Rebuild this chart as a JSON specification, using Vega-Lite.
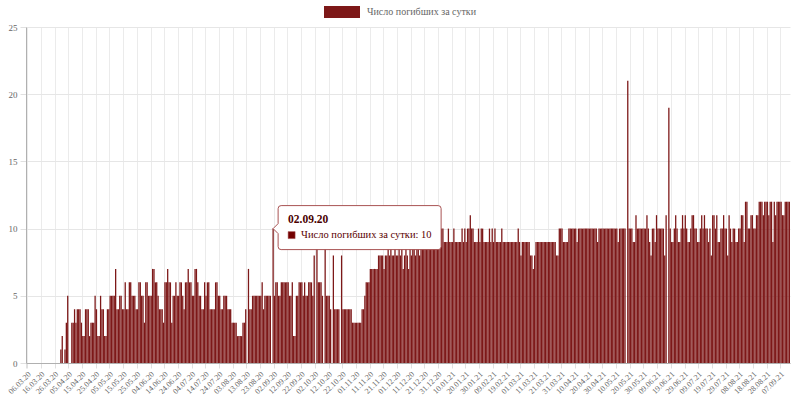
{
"$schema": "https://vega.github.io/schema/vega-lite/v6.json",
"width": 764,
"height": 336,
"autosize": {"type": "none"},
"padding": {"left": 26, "top": 27, "right": 8, "bottom": 36},
"background": "white",
"config": {"font": "Liberation Serif", "view": {"stroke": null}, "axis": {"labelFont": "Liberation Serif"}, "legend": {"labelFont": "Liberation Serif"}, "text": {"font": "Liberation Serif"}},
"data": {"values": [
{"d":"06.03.20","v":0},{"d":"07.03.20","v":0},{"d":"08.03.20","v":0},{"d":"09.03.20","v":0},{"d":"10.03.20","v":0},{"d":"11.03.20","v":0},{"d":"12.03.20","v":0},{"d":"13.03.20","v":0},{"d":"14.03.20","v":0},{"d":"15.03.20","v":0},{"d":"16.03.20","v":0},{"d":"17.03.20","v":0},{"d":"18.03.20","v":0},{"d":"19.03.20","v":0},{"d":"20.03.20","v":0},{"d":"21.03.20","v":0},{"d":"22.03.20","v":0},{"d":"23.03.20","v":0},{"d":"24.03.20","v":0},{"d":"25.03.20","v":0},{"d":"26.03.20","v":0},{"d":"27.03.20","v":0},{"d":"28.03.20","v":0},{"d":"29.03.20","v":0},{"d":"30.03.20","v":0},{"d":"31.03.20","v":1},
{"d":"01.04.20","v":2},{"d":"02.04.20","v":0},{"d":"03.04.20","v":1},{"d":"04.04.20","v":3},{"d":"05.04.20","v":5},{"d":"06.04.20","v":0},{"d":"07.04.20","v":0},{"d":"08.04.20","v":3},{"d":"09.04.20","v":3},{"d":"10.04.20","v":4},{"d":"11.04.20","v":3},{"d":"12.04.20","v":4},{"d":"13.04.20","v":4},{"d":"14.04.20","v":4},{"d":"15.04.20","v":3},{"d":"16.04.20","v":2},{"d":"17.04.20","v":2},{"d":"18.04.20","v":4},{"d":"19.04.20","v":4},{"d":"20.04.20","v":4},{"d":"21.04.20","v":2},{"d":"22.04.20","v":3},{"d":"23.04.20","v":3},{"d":"24.04.20","v":3},{"d":"25.04.20","v":5},{"d":"26.04.20","v":4},{"d":"27.04.20","v":2},{"d":"28.04.20","v":2},{"d":"29.04.20","v":5},{"d":"30.04.20","v":4},
{"d":"01.05.20","v":4},{"d":"02.05.20","v":2},{"d":"03.05.20","v":2},{"d":"04.05.20","v":4},{"d":"05.05.20","v":4},{"d":"06.05.20","v":5},{"d":"07.05.20","v":5},{"d":"08.05.20","v":5},{"d":"09.05.20","v":5},{"d":"10.05.20","v":7},{"d":"11.05.20","v":4},{"d":"12.05.20","v":4},{"d":"13.05.20","v":5},{"d":"14.05.20","v":5},{"d":"15.05.20","v":4},{"d":"16.05.20","v":4},{"d":"17.05.20","v":6},{"d":"18.05.20","v":4},{"d":"19.05.20","v":4},{"d":"20.05.20","v":6},{"d":"21.05.20","v":6},{"d":"22.05.20","v":5},{"d":"23.05.20","v":5},{"d":"24.05.20","v":5},{"d":"25.05.20","v":4},{"d":"26.05.20","v":4},{"d":"27.05.20","v":6},{"d":"28.05.20","v":6},{"d":"29.05.20","v":5},{"d":"30.05.20","v":5},{"d":"31.05.20","v":3},
{"d":"01.06.20","v":6},{"d":"02.06.20","v":6},{"d":"03.06.20","v":5},{"d":"04.06.20","v":5},{"d":"05.06.20","v":5},{"d":"06.06.20","v":7},{"d":"07.06.20","v":7},{"d":"08.06.20","v":6},{"d":"09.06.20","v":6},{"d":"10.06.20","v":5},{"d":"11.06.20","v":4},{"d":"12.06.20","v":4},{"d":"13.06.20","v":4},{"d":"14.06.20","v":3},{"d":"15.06.20","v":6},{"d":"16.06.20","v":6},{"d":"17.06.20","v":7},{"d":"18.06.20","v":6},{"d":"19.06.20","v":6},{"d":"20.06.20","v":3},{"d":"21.06.20","v":5},{"d":"22.06.20","v":5},{"d":"23.06.20","v":6},{"d":"24.06.20","v":5},{"d":"25.06.20","v":5},{"d":"26.06.20","v":6},{"d":"27.06.20","v":6},{"d":"28.06.20","v":5},{"d":"29.06.20","v":4},{"d":"30.06.20","v":6},
{"d":"01.07.20","v":6},{"d":"02.07.20","v":7},{"d":"03.07.20","v":6},{"d":"04.07.20","v":6},{"d":"05.07.20","v":5},{"d":"06.07.20","v":5},{"d":"07.07.20","v":7},{"d":"08.07.20","v":7},{"d":"09.07.20","v":6},{"d":"10.07.20","v":5},{"d":"11.07.20","v":5},{"d":"12.07.20","v":4},{"d":"13.07.20","v":4},{"d":"14.07.20","v":6},{"d":"15.07.20","v":5},{"d":"16.07.20","v":6},{"d":"17.07.20","v":6},{"d":"18.07.20","v":4},{"d":"19.07.20","v":4},{"d":"20.07.20","v":4},{"d":"21.07.20","v":4},{"d":"22.07.20","v":6},{"d":"23.07.20","v":6},{"d":"24.07.20","v":5},{"d":"25.07.20","v":5},{"d":"26.07.20","v":4},{"d":"27.07.20","v":4},{"d":"28.07.20","v":5},{"d":"29.07.20","v":5},{"d":"30.07.20","v":5},{"d":"31.07.20","v":4},
{"d":"01.08.20","v":4},{"d":"02.08.20","v":4},{"d":"03.08.20","v":3},{"d":"04.08.20","v":3},{"d":"05.08.20","v":3},{"d":"06.08.20","v":3},{"d":"07.08.20","v":2},{"d":"08.08.20","v":2},{"d":"09.08.20","v":2},{"d":"10.08.20","v":2},{"d":"11.08.20","v":3},{"d":"12.08.20","v":3},{"d":"13.08.20","v":4},{"d":"14.08.20","v":0},{"d":"15.08.20","v":7},{"d":"16.08.20","v":4},{"d":"17.08.20","v":4},{"d":"18.08.20","v":5},{"d":"19.08.20","v":5},{"d":"20.08.20","v":5},{"d":"21.08.20","v":5},{"d":"22.08.20","v":5},{"d":"23.08.20","v":5},{"d":"24.08.20","v":5},{"d":"25.08.20","v":6},{"d":"26.08.20","v":4},{"d":"27.08.20","v":5},{"d":"28.08.20","v":5},{"d":"29.08.20","v":5},{"d":"30.08.20","v":5},{"d":"31.08.20","v":5},
{"d":"01.09.20","v":0},{"d":"02.09.20","v":10},{"d":"03.09.20","v":5},{"d":"04.09.20","v":6},{"d":"05.09.20","v":6},{"d":"06.09.20","v":5},{"d":"07.09.20","v":5},{"d":"08.09.20","v":6},{"d":"09.09.20","v":6},{"d":"10.09.20","v":6},{"d":"11.09.20","v":6},{"d":"12.09.20","v":6},{"d":"13.09.20","v":6},{"d":"14.09.20","v":5},{"d":"15.09.20","v":5},{"d":"16.09.20","v":6},{"d":"17.09.20","v":2},{"d":"18.09.20","v":2},{"d":"19.09.20","v":5},{"d":"20.09.20","v":5},{"d":"21.09.20","v":6},{"d":"22.09.20","v":6},{"d":"23.09.20","v":6},{"d":"24.09.20","v":5},{"d":"25.09.20","v":6},{"d":"26.09.20","v":5},{"d":"27.09.20","v":5},{"d":"28.09.20","v":6},{"d":"29.09.20","v":6},{"d":"30.09.20","v":6},
{"d":"01.10.20","v":5},{"d":"02.10.20","v":8},{"d":"03.10.20","v":0},{"d":"04.10.20","v":9},{"d":"05.10.20","v":6},{"d":"06.10.20","v":6},{"d":"07.10.20","v":6},{"d":"08.10.20","v":5},{"d":"09.10.20","v":0},{"d":"10.10.20","v":9},{"d":"11.10.20","v":5},{"d":"12.10.20","v":5},{"d":"13.10.20","v":5},{"d":"14.10.20","v":4},{"d":"15.10.20","v":0},{"d":"16.10.20","v":8},{"d":"17.10.20","v":4},{"d":"18.10.20","v":4},{"d":"19.10.20","v":4},{"d":"20.10.20","v":4},{"d":"21.10.20","v":0},{"d":"22.10.20","v":8},{"d":"23.10.20","v":4},{"d":"24.10.20","v":4},{"d":"25.10.20","v":4},{"d":"26.10.20","v":4},{"d":"27.10.20","v":4},{"d":"28.10.20","v":4},{"d":"29.10.20","v":4},{"d":"30.10.20","v":3},{"d":"31.10.20","v":3},
{"d":"01.11.20","v":3},{"d":"02.11.20","v":3},{"d":"03.11.20","v":3},{"d":"04.11.20","v":3},{"d":"05.11.20","v":3},{"d":"06.11.20","v":4},{"d":"07.11.20","v":4},{"d":"08.11.20","v":5},{"d":"09.11.20","v":6},{"d":"10.11.20","v":6},{"d":"11.11.20","v":6},{"d":"12.11.20","v":7},{"d":"13.11.20","v":7},{"d":"14.11.20","v":7},{"d":"15.11.20","v":7},{"d":"16.11.20","v":7},{"d":"17.11.20","v":7},{"d":"18.11.20","v":8},{"d":"19.11.20","v":8},{"d":"20.11.20","v":8},{"d":"21.11.20","v":8},{"d":"22.11.20","v":7},{"d":"23.11.20","v":8},{"d":"24.11.20","v":8},{"d":"25.11.20","v":9},{"d":"26.11.20","v":8},{"d":"27.11.20","v":9},{"d":"28.11.20","v":8},{"d":"29.11.20","v":8},{"d":"30.11.20","v":9},
{"d":"01.12.20","v":8},{"d":"02.12.20","v":8},{"d":"03.12.20","v":9},{"d":"04.12.20","v":8},{"d":"05.12.20","v":9},{"d":"06.12.20","v":7},{"d":"07.12.20","v":8},{"d":"08.12.20","v":9},{"d":"09.12.20","v":8},{"d":"10.12.20","v":7},{"d":"11.12.20","v":9},{"d":"12.12.20","v":8},{"d":"13.12.20","v":9},{"d":"14.12.20","v":9},{"d":"15.12.20","v":8},{"d":"16.12.20","v":9},{"d":"17.12.20","v":9},{"d":"18.12.20","v":8},{"d":"19.12.20","v":9},{"d":"20.12.20","v":9},{"d":"21.12.20","v":9},{"d":"22.12.20","v":9},{"d":"23.12.20","v":9},{"d":"24.12.20","v":9},{"d":"25.12.20","v":9},{"d":"26.12.20","v":9},{"d":"27.12.20","v":10},{"d":"28.12.20","v":9},{"d":"29.12.20","v":9},{"d":"30.12.20","v":10},{"d":"31.12.20","v":9},
{"d":"01.01.21","v":9},{"d":"02.01.21","v":9},{"d":"03.01.21","v":10},{"d":"04.01.21","v":10},{"d":"05.01.21","v":9},{"d":"06.01.21","v":9},{"d":"07.01.21","v":9},{"d":"08.01.21","v":10},{"d":"09.01.21","v":9},{"d":"10.01.21","v":9},{"d":"11.01.21","v":9},{"d":"12.01.21","v":10},{"d":"13.01.21","v":9},{"d":"14.01.21","v":9},{"d":"15.01.21","v":9},{"d":"16.01.21","v":9},{"d":"17.01.21","v":9},{"d":"18.01.21","v":10},{"d":"19.01.21","v":9},{"d":"20.01.21","v":10},{"d":"21.01.21","v":9},{"d":"22.01.21","v":10},{"d":"23.01.21","v":10},{"d":"24.01.21","v":11},{"d":"25.01.21","v":10},{"d":"26.01.21","v":10},{"d":"27.01.21","v":9},{"d":"28.01.21","v":9},{"d":"29.01.21","v":9},{"d":"30.01.21","v":10},{"d":"31.01.21","v":9},
{"d":"01.02.21","v":10},{"d":"02.02.21","v":10},{"d":"03.02.21","v":9},{"d":"04.02.21","v":9},{"d":"05.02.21","v":9},{"d":"06.02.21","v":9},{"d":"07.02.21","v":10},{"d":"08.02.21","v":9},{"d":"09.02.21","v":10},{"d":"10.02.21","v":9},{"d":"11.02.21","v":10},{"d":"12.02.21","v":9},{"d":"13.02.21","v":9},{"d":"14.02.21","v":9},{"d":"15.02.21","v":9},{"d":"16.02.21","v":10},{"d":"17.02.21","v":9},{"d":"18.02.21","v":9},{"d":"19.02.21","v":9},{"d":"20.02.21","v":9},{"d":"21.02.21","v":9},{"d":"22.02.21","v":9},{"d":"23.02.21","v":9},{"d":"24.02.21","v":9},{"d":"25.02.21","v":9},{"d":"26.02.21","v":9},{"d":"27.02.21","v":9},{"d":"28.02.21","v":10},
{"d":"01.03.21","v":9},{"d":"02.03.21","v":8},{"d":"03.03.21","v":9},{"d":"04.03.21","v":9},{"d":"05.03.21","v":9},{"d":"06.03.21","v":9},{"d":"07.03.21","v":9},{"d":"08.03.21","v":9},{"d":"09.03.21","v":8},{"d":"10.03.21","v":8},{"d":"11.03.21","v":7},{"d":"12.03.21","v":8},{"d":"13.03.21","v":9},{"d":"14.03.21","v":9},{"d":"15.03.21","v":9},{"d":"16.03.21","v":9},{"d":"17.03.21","v":9},{"d":"18.03.21","v":9},{"d":"19.03.21","v":9},{"d":"20.03.21","v":9},{"d":"21.03.21","v":9},{"d":"22.03.21","v":9},{"d":"23.03.21","v":9},{"d":"24.03.21","v":9},{"d":"25.03.21","v":9},{"d":"26.03.21","v":9},{"d":"27.03.21","v":9},{"d":"28.03.21","v":8},{"d":"29.03.21","v":8},{"d":"30.03.21","v":10},{"d":"31.03.21","v":10},
{"d":"01.04.21","v":10},{"d":"02.04.21","v":9},{"d":"03.04.21","v":9},{"d":"04.04.21","v":9},{"d":"05.04.21","v":9},{"d":"06.04.21","v":10},{"d":"07.04.21","v":10},{"d":"08.04.21","v":10},{"d":"09.04.21","v":10},{"d":"10.04.21","v":10},{"d":"11.04.21","v":10},{"d":"12.04.21","v":9},{"d":"13.04.21","v":10},{"d":"14.04.21","v":10},{"d":"15.04.21","v":10},{"d":"16.04.21","v":10},{"d":"17.04.21","v":10},{"d":"18.04.21","v":10},{"d":"19.04.21","v":10},{"d":"20.04.21","v":10},{"d":"21.04.21","v":10},{"d":"22.04.21","v":10},{"d":"23.04.21","v":10},{"d":"24.04.21","v":10},{"d":"25.04.21","v":10},{"d":"26.04.21","v":10},{"d":"27.04.21","v":9},{"d":"28.04.21","v":10},{"d":"29.04.21","v":10},{"d":"30.04.21","v":10},
{"d":"01.05.21","v":10},{"d":"02.05.21","v":10},{"d":"03.05.21","v":10},{"d":"04.05.21","v":10},{"d":"05.05.21","v":10},{"d":"06.05.21","v":10},{"d":"07.05.21","v":10},{"d":"08.05.21","v":10},{"d":"09.05.21","v":10},{"d":"10.05.21","v":10},{"d":"11.05.21","v":10},{"d":"12.05.21","v":9},{"d":"13.05.21","v":10},{"d":"14.05.21","v":10},{"d":"15.05.21","v":10},{"d":"16.05.21","v":10},{"d":"17.05.21","v":10},{"d":"18.05.21","v":0},{"d":"19.05.21","v":21},{"d":"20.05.21","v":10},{"d":"21.05.21","v":10},{"d":"22.05.21","v":10},{"d":"23.05.21","v":9},{"d":"24.05.21","v":9},{"d":"25.05.21","v":11},{"d":"26.05.21","v":10},{"d":"27.05.21","v":10},{"d":"28.05.21","v":10},{"d":"29.05.21","v":10},{"d":"30.05.21","v":10},{"d":"31.05.21","v":10},
{"d":"01.06.21","v":10},{"d":"02.06.21","v":11},{"d":"03.06.21","v":10},{"d":"04.06.21","v":9},{"d":"05.06.21","v":8},{"d":"06.06.21","v":10},{"d":"07.06.21","v":10},{"d":"08.06.21","v":9},{"d":"09.06.21","v":11},{"d":"10.06.21","v":10},{"d":"11.06.21","v":10},{"d":"12.06.21","v":10},{"d":"13.06.21","v":10},{"d":"14.06.21","v":10},{"d":"15.06.21","v":8},{"d":"16.06.21","v":11},{"d":"17.06.21","v":0},{"d":"18.06.21","v":19},{"d":"19.06.21","v":10},{"d":"20.06.21","v":9},{"d":"21.06.21","v":9},{"d":"22.06.21","v":10},{"d":"23.06.21","v":11},{"d":"24.06.21","v":10},{"d":"25.06.21","v":9},{"d":"26.06.21","v":9},{"d":"27.06.21","v":10},{"d":"28.06.21","v":11},{"d":"29.06.21","v":10},{"d":"30.06.21","v":11},
{"d":"01.07.21","v":10},{"d":"02.07.21","v":9},{"d":"03.07.21","v":9},{"d":"04.07.21","v":10},{"d":"05.07.21","v":11},{"d":"06.07.21","v":11},{"d":"07.07.21","v":10},{"d":"08.07.21","v":10},{"d":"09.07.21","v":9},{"d":"10.07.21","v":9},{"d":"11.07.21","v":10},{"d":"12.07.21","v":11},{"d":"13.07.21","v":10},{"d":"14.07.21","v":11},{"d":"15.07.21","v":10},{"d":"16.07.21","v":10},{"d":"17.07.21","v":9},{"d":"18.07.21","v":10},{"d":"19.07.21","v":8},{"d":"20.07.21","v":11},{"d":"21.07.21","v":11},{"d":"22.07.21","v":10},{"d":"23.07.21","v":11},{"d":"24.07.21","v":9},{"d":"25.07.21","v":9},{"d":"26.07.21","v":10},{"d":"27.07.21","v":10},{"d":"28.07.21","v":11},{"d":"29.07.21","v":10},{"d":"30.07.21","v":10},{"d":"31.07.21","v":8},
{"d":"01.08.21","v":11},{"d":"02.08.21","v":10},{"d":"03.08.21","v":9},{"d":"04.08.21","v":10},{"d":"05.08.21","v":10},{"d":"06.08.21","v":9},{"d":"07.08.21","v":9},{"d":"08.08.21","v":10},{"d":"09.08.21","v":10},{"d":"10.08.21","v":11},{"d":"11.08.21","v":11},{"d":"12.08.21","v":9},{"d":"13.08.21","v":12},{"d":"14.08.21","v":12},{"d":"15.08.21","v":10},{"d":"16.08.21","v":10},{"d":"17.08.21","v":11},{"d":"18.08.21","v":11},{"d":"19.08.21","v":10},{"d":"20.08.21","v":10},{"d":"21.08.21","v":11},{"d":"22.08.21","v":11},{"d":"23.08.21","v":12},{"d":"24.08.21","v":12},{"d":"25.08.21","v":12},{"d":"26.08.21","v":11},{"d":"27.08.21","v":12},{"d":"28.08.21","v":12},{"d":"29.08.21","v":12},{"d":"30.08.21","v":11},{"d":"31.08.21","v":12},
{"d":"01.09.21","v":12},{"d":"02.09.21","v":9},{"d":"03.09.21","v":12},{"d":"04.09.21","v":11},{"d":"05.09.21","v":12},{"d":"06.09.21","v":12},{"d":"07.09.21","v":12},{"d":"08.09.21","v":12},{"d":"09.09.21","v":11},{"d":"10.09.21","v":11},{"d":"11.09.21","v":12},{"d":"12.09.21","v":12},{"d":"13.09.21","v":12},{"d":"14.09.21","v":12}
]},
"encoding": {
  "x": {"field": "d", "type": "ordinal", "sort": null,
    "scale": {"paddingInner": 0.06, "paddingOuter": 0},
    "axis": {"title": null, "values": ["06.03.20","16.03.20","26.03.20","05.04.20","15.04.20","25.04.20","05.05.20","15.05.20","25.05.20","04.06.20","14.06.20","24.06.20","04.07.20","14.07.20","24.07.20","03.08.20","13.08.20","23.08.20","02.09.20","12.09.20","22.09.20","02.10.20","12.10.20","22.10.20","01.11.20","11.11.20","21.11.20","01.12.20","11.12.20","21.12.20","31.12.20","10.01.21","20.01.21","30.01.21","09.02.21","19.02.21","01.03.21","11.03.21","21.03.21","31.03.21","10.04.21","20.04.21","30.04.21","10.05.21","20.05.21","30.05.21","09.06.21","19.06.21","29.06.21","09.07.21","19.07.21","29.07.21","08.08.21","18.08.21","28.08.21","07.09.21"],
      "labelAngle": -45, "labelAlign": "right", "labelBaseline": "top", "labelFont": "Liberation Serif", "labelFontSize": 8, "labelColor": "#666", "labelPadding": 2,
      "grid": true, "gridColor": "#ebebeb", "tickBand": "extent", "tickColor": "#e0e0e0", "tickSize": 5, "domainColor": "#b0b0b0"}},
  "y": {"field": "v", "type": "quantitative",
    "scale": {"domain": [0, 25], "nice": false},
    "axis": {"title": null, "values": [0, 5, 10, 15, 20, 25], "grid": true, "gridColor": "#e6e6e6", "domainColor": "#b0b0b0", "tickColor": "#e0e0e0", "tickSize": 6, "labelFont": "Liberation Serif", "labelFontSize": 9, "labelColor": "#666", "labelPadding": 3}}
},
"layer": [
  {"mark": {"type": "bar", "opacity": 1},
   "encoding": {"color": {"datum": "Число погибших за сутки", "type": "nominal",
     "scale": {"range": ["#7d1818"]},
     "legend": {"orient": "none", "legendX": 311, "legendY": -20, "title": null, "padding": 0,
       "symbolType": "M-18,-6H18V6H-18Z", "symbolSize": 4, "symbolStrokeWidth": 0, "labelOffset": 20,
       "labelFontSize": 10, "labelColor": "#666", "labelFont": "Liberation Serif",
       "encode": {"symbols": {"update": {"fill": {"value": "#730000"}, "stroke": {"value": "#730000"}, "opacity": {"value": 1}}}}}}}},
  {"transform": [{"filter": "datum.d == '02.09.20'"}],
   "mark": {"type": "point", "shape": "M0,0L5,-5L5,-20Q5,-23 8,-23L165,-23Q168,-23 168,-20L168,18Q168,21 165,21L8,21Q5,21 5,18L5,5Z", "size": 4, "filled": true, "fill": "white", "stroke": "#a85252", "strokeWidth": 1, "opacity": 1}},
  {"transform": [{"filter": "datum.d == '02.09.20'"}],
   "mark": {"type": "point", "shape": "M15,3H22V10H15Z", "size": 4, "filled": true, "fill": "#730000", "stroke": "#a85252", "strokeWidth": 0.5, "opacity": 1}},
  {"transform": [{"filter": "datum.d == '02.09.20'"}],
   "mark": {"type": "text", "text": "02.09.20", "dx": 15, "dy": -9, "align": "left", "baseline": "middle", "font": "Liberation Serif", "fontWeight": "bold", "fontSize": 11.5, "color": "#4a0000"}},
  {"transform": [{"filter": "datum.d == '02.09.20'"}],
   "mark": {"type": "text", "text": "Число погибших за сутки: 10", "dx": 28, "dy": 6, "align": "left", "baseline": "middle", "font": "Liberation Serif", "fontSize": 10.5, "color": "#5a0000"}}
]
}
